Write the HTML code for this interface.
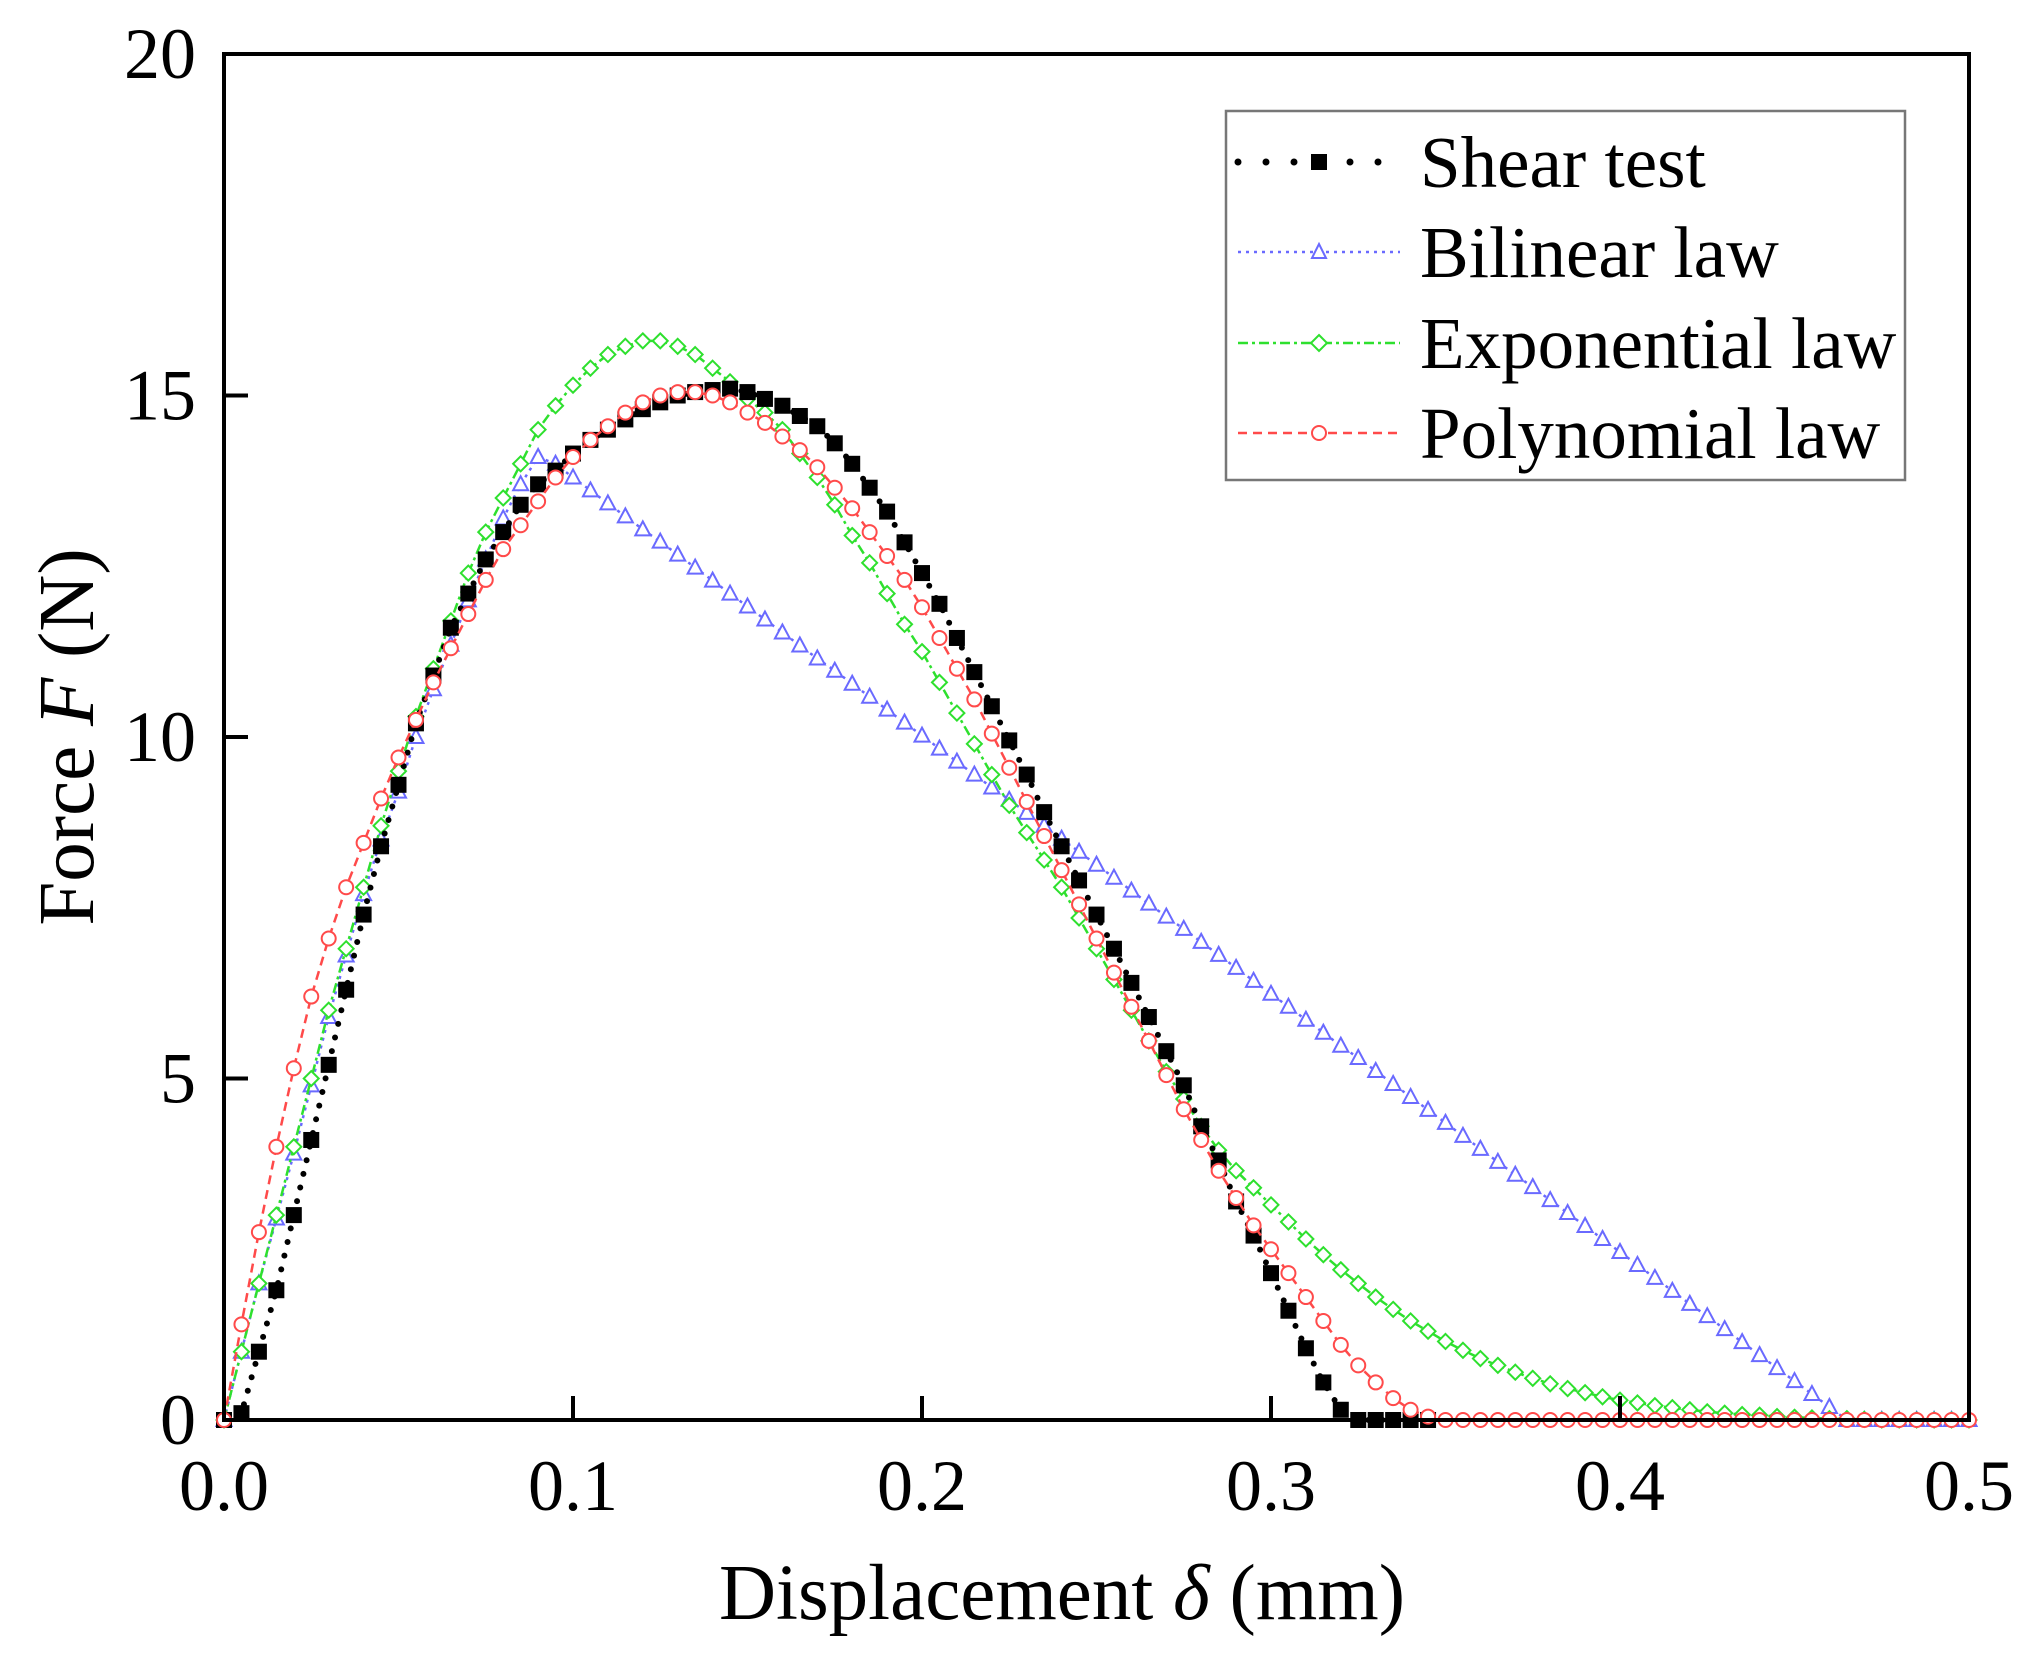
<!DOCTYPE html>
<html><head><meta charset="utf-8"><style>
html,body{margin:0;padding:0;background:#fff;}
svg{display:block;font-family:"Liberation Serif",serif;}
</style></head><body>
<svg id="chart" width="2028" height="1659" viewBox="0 0 2028 1659" xmlns="http://www.w3.org/2000/svg">
<rect x="0" y="0" width="2028" height="1659" fill="#fff"/>
<g id="marks"></g>
<g id="axes"></g>
<g>
  <rect x="1226" y="111" width="679" height="369" fill="#fff" stroke="#777" stroke-width="2.5"/>
  <g>
    <line x1="1238" y1="162" x2="1398" y2="162" stroke="#000" stroke-width="7" stroke-dasharray="0 28" stroke-linecap="round"/>
    <rect x="1311" y="154" width="16" height="16" fill="#000"/>
    <text x="1420" y="187" font-size="73">Shear test</text>
  </g>
  <g>
    <line x1="1238" y1="252" x2="1400" y2="252" stroke="#6a6aff" stroke-width="2.5" stroke-dasharray="3 5"/>
    <polygon points="1319,244 1326,258 1312,258" fill="#fff" stroke="#6a6aff" stroke-width="2"/>
    <text x="1420" y="277" font-size="73">Bilinear law</text>
  </g>
  <g>
    <line x1="1238" y1="343" x2="1400" y2="343" stroke="#2ee02e" stroke-width="2.5" stroke-dasharray="10 4 3 4"/>
    <polygon points="1319,335 1327,343 1319,351 1311,343" fill="#fff" stroke="#2ee02e" stroke-width="2"/>
    <text x="1420" y="368" font-size="73">Exponential law</text>
  </g>
  <g>
    <line x1="1238" y1="433" x2="1400" y2="433" stroke="#ff4a4a" stroke-width="2.5" stroke-dasharray="9 6"/>
    <circle cx="1319" cy="433" r="7" fill="#fff" stroke="#ff4a4a" stroke-width="2"/>
    <text x="1420" y="458" font-size="73">Polynomial law</text>
  </g>
</g>
<text x="1062" y="1619" font-size="79" text-anchor="middle">Displacement <tspan font-style="italic">δ</tspan> (mm)</text>
<text transform="translate(93,737) rotate(-90)" font-size="79" text-anchor="middle">Force <tspan font-style="italic">F</tspan> (N)</text>
</svg>
<script>
const step = 0.005;
const xTicks = [0, 0.1, 0.2, 0.3, 0.4, 0.5];
const xTickLabels = ["0.0", "0.1", "0.2", "0.3", "0.4", "0.5"];
const yTicks = [0, 5, 10, 15, 20];
const yTickLabels = ["0", "5", "10", "15", "20"];
const shearTest = [0,0.1,1.0,1.9,3.0,4.1,5.2,6.3,7.4,8.4,9.3,10.2,10.9,11.6,12.1,12.6,13.0,13.4,13.7,13.9,14.15,14.35,14.5,14.65,14.8,14.9,15.0,15.05,15.08,15.1,15.05,14.95,14.85,14.7,14.55,14.3,14.0,13.65,13.3,12.85,12.4,11.95,11.45,10.95,10.45,9.95,9.45,8.9,8.4,7.9,7.4,6.9,6.4,5.9,5.4,4.9,4.3,3.8,3.2,2.7,2.15,1.6,1.05,0.55,0.15,0,0,0,0,0];
const bilinear = [0,1.0,2.0,2.95,3.9,4.9,5.9,6.8,7.7,8.5,9.2,10.0,10.7,11.35,12.0,12.6,13.2,13.7,14.1,14.0,13.80,13.61,13.42,13.23,13.04,12.86,12.67,12.48,12.29,12.10,11.91,11.72,11.53,11.34,11.15,10.97,10.78,10.59,10.40,10.21,10.02,9.83,9.64,9.45,9.26,9.08,8.89,8.70,8.51,8.32,8.13,7.94,7.75,7.56,7.37,7.19,7.00,6.81,6.62,6.43,6.24,6.05,5.86,5.67,5.48,5.30,5.11,4.92,4.73,4.54,4.35,4.16,3.97,3.78,3.59,3.41,3.22,3.03,2.84,2.65,2.46,2.27,2.08,1.89,1.70,1.52,1.33,1.14,0.95,0.76,0.57,0.38,0.19,0,0,0,0,0,0,0,0];
const exponential = [0,1.0,2.0,3.0,4.0,5.0,6.0,6.9,7.8,8.7,9.5,10.3,11.0,11.7,12.4,13.0,13.5,14.0,14.5,14.85,15.15,15.4,15.6,15.72,15.8,15.8,15.72,15.6,15.4,15.2,14.95,14.75,14.5,14.15,13.8,13.4,12.95,12.55,12.1,11.65,11.25,10.8,10.35,9.9,9.45,9.0,8.6,8.2,7.8,7.35,6.9,6.45,6.0,5.55,5.1,4.7,4.3,3.95,3.65,3.4,3.15,2.9,2.65,2.42,2.2,2.0,1.8,1.62,1.45,1.3,1.15,1.02,0.9,0.8,0.7,0.61,0.53,0.46,0.4,0.34,0.29,0.25,0.21,0.18,0.15,0.12,0.1,0.08,0.07,0.05,0.04,0.03,0.02,0.02,0.01,0,0,0,0,0,0];
const polynomial = [0,1.4,2.75,4.0,5.15,6.2,7.05,7.8,8.45,9.1,9.7,10.25,10.8,11.3,11.8,12.3,12.75,13.1,13.45,13.8,14.1,14.35,14.55,14.75,14.9,15.0,15.05,15.05,15.0,14.9,14.75,14.6,14.4,14.2,13.95,13.65,13.35,13.0,12.65,12.3,11.9,11.45,11.0,10.55,10.05,9.55,9.05,8.55,8.05,7.55,7.05,6.55,6.05,5.55,5.05,4.55,4.1,3.65,3.25,2.85,2.5,2.15,1.8,1.45,1.1,0.8,0.55,0.32,0.15,0.05,0,0,0,0,0,0,0,0,0,0,0,0,0,0,0,0,0,0,0,0,0,0,0,0,0,0,0,0,0,0,0];

const X0=224, X1=1969, Y0=1420, Y1=54;
function xs(v){return X0+(v/0.5)*(X1-X0);}
function ys(v){return Y0-(v/20)*(Y0-Y1);}
const NS="http://www.w3.org/2000/svg";
const marks=document.getElementById('marks');
const axes=document.getElementById('axes');
function mk(tag,attrs,parent){const e=document.createElementNS(NS,tag);for(const k in attrs)e.setAttribute(k,attrs[k]);parent.appendChild(e);return e;}
function pts(arr){return arr.map((v,i)=>xs(i*step).toFixed(1)+','+ys(v).toFixed(1)).join(' ');}

function series(arr,name,color,dash,width,marker){
  const g=mk('g',{},marks);
  
  
  const pl=mk('polyline',{points:pts(arr),fill:'none',stroke:color,'stroke-width':width,'stroke-dasharray':dash,'stroke-linecap':name==='shear-test'?'round':'butt'},g);
  
  
  arr.forEach((v,i)=>{
    const cx=xs(i*step), cy=ys(v);
    let m;
    if(marker==='square') m=mk('rect',{x:cx-8,y:cy-8,width:16,height:16,fill:'#000'},g);
    else if(marker==='tri') m=mk('polygon',{points:`${cx},${cy-8} ${cx+7.5},${cy+6} ${cx-7.5},${cy+6}`,fill:'#fff',stroke:color,'stroke-width':2},g);
    else if(marker==='diamond') m=mk('polygon',{points:`${cx},${cy-7.5} ${cx+7.5},${cy} ${cx},${cy+7.5} ${cx-7.5},${cy}`,fill:'#fff',stroke:color,'stroke-width':2},g);
    else m=mk('circle',{cx:cx,cy:cy,r:7,fill:'#fff',stroke:color,'stroke-width':2},g);
    
    
  });
}
series(bilinear,'bilinear','#6a6aff','3 5',2.5,'tri');
series(exponential,'exponential','#2ee02e','10 4 3 4',2.5,'diamond');
series(shearTest,'shear-test','#000','0 14',6,'square');
series(polynomial,'polynomial','#ff4a4a','9 6',2.5,'circle');

const frame=mk('rect',{x:X0,y:Y1,width:X1-X0,height:Y0-Y1,fill:'none',stroke:'#000','stroke-width':4},axes);


xTicks.forEach((v,i)=>{
  const t=mk('line',{x1:xs(v),x2:xs(v),y1:Y0,y2:Y0-24,stroke:'#000','stroke-width':4},axes);
  
  
  const l=mk('text',{x:xs(v),y:1510,'font-size':72,'text-anchor':'middle'},axes);
  l.textContent=xTickLabels[i];
  
  
});
yTicks.forEach((v,i)=>{
  const t=mk('line',{x1:X0,x2:X0+24,y1:ys(v),y2:ys(v),stroke:'#000','stroke-width':4},axes);
  
  
  const l=mk('text',{x:196,y:ys(v)+24,'font-size':72,'text-anchor':'end'},axes);
  l.textContent=yTickLabels[i];
  
  
});
</script>
</body></html>
